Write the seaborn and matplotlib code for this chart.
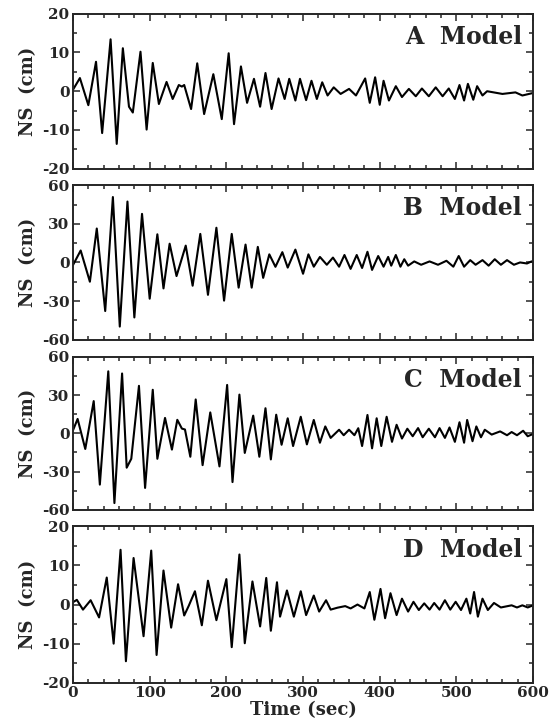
import matplotlib
matplotlib.use('Agg')
import matplotlib.pyplot as plt
import seaborn as sns
from matplotlib.ticker import MultipleLocator

sns.set_style('ticks')
plt.rcParams['font.family'] = ['DejaVu Serif']
plt.rcParams['axes.unicode_minus'] = False

# --- data: (time in sec, NS displacement in cm) at the wave's turning points ---
a_time = [0, 9, 20, 30, 38, 49, 57, 65, 73, 78, 88, 96, 104, 112, 122, 130, 138, 142, 145,
          154, 162, 171, 183, 194, 203, 210, 219, 227, 236, 244, 251, 259,
          268, 276, 282, 290, 296, 304, 311, 318, 325, 332, 340, 349, 360, 369,
          381, 387, 394, 400, 405, 412, 421, 429, 438, 447, 455, 464, 473, 482, 490,
          498, 504, 510, 515, 522, 527, 534, 540, 560, 577, 586, 599]
a_ns = [0.4, 3.4, -3.6, 7.6, -10.8, 13.4, -13.6, 11.1, -4.0, -5.5, 10.2, -9.9, 7.3, -3.3, 2.4, -2.0, 1.6, 1.2, 1.6,
        -4.6, 7.2, -5.9, 4.4, -7.2, 9.8, -8.5, 6.4, -3.0, 3.2, -4.0, 4.7, -4.6,
        3.3, -2.0, 3.2, -2.4, 3.2, -2.3, 2.7, -2.0, 2.3, -1.1, 1.0, -0.7, 0.6, -1.1,
        3.3, -3.0, 3.6, -3.5, 2.7, -2.4, 1.3, -1.5, 0.6, -1.3, 0.7, -1.3, 1.0, -1.3, 0.7,
        -2.0, 1.6, -2.4, 1.9, -2.2, 1.3, -1.1, 0.0, -0.7, -0.3, -1.1, -0.5]

b_time = [0, 10, 22, 31, 42, 52, 61, 71, 80, 90, 100, 110, 118, 126, 135, 147, 156, 166, 176,
          187, 197, 207, 216, 225, 233, 241, 248, 256, 264, 273, 280,
          290, 300, 307, 314, 322, 331, 339, 347, 354, 362, 370, 377, 384, 390, 398, 405,
          411, 415, 421, 427, 432, 437, 445, 454, 465, 476, 487, 496, 503, 510, 518, 525,
          534, 542, 550, 558, 566, 575, 583, 592, 598, 600]
b_ns = [-2, 9.3, -15, 26.4, -37.8, 50.9, -49.9, 47.4, -42.8, 37.8, -28.2, 21.9, -20.2, 14.6, -10.6, 13.1, -18.1, 22.2, -25.2,
        27, -29.7, 22.2, -19.6, 13.9, -19.6, 12.1, -12, 6.3, -3.4, 8, -4,
        10, -8.8, 6.3, -3.3, 4.3, -1.8, 3.8, -3.3, 5.8, -5, 5.8, -4.3, 8.3, -5.8, 5, -3.3,
        4.3, -2.5, 5.8, -3.3, 2.5, -2.5, 0.8, -1.8, 0.8, -1.8, 1.3, -3.3, 5, -3.3, 1.8, -1.8,
        1.8, -2.5, 2.5, -1.8, 1.8, -1.8, 0, -0.8, 0.8, 0]

c_time = [0, 6, 16, 27, 35, 46, 54, 64, 70, 76, 86, 94, 104, 110, 120, 129, 136, 142, 146,
          153, 160, 169, 179, 191, 201, 208, 217, 224, 235, 243, 251, 258, 265, 272,
          280, 287, 297, 305, 314, 322, 329, 336, 347, 353, 360, 367, 372, 377, 384, 390,
          396, 402, 409, 416, 422, 429, 436, 443, 450, 456, 464, 472, 478, 485, 491, 498,
          504, 510, 514, 521, 526, 532, 537, 546, 557, 566, 572, 579, 587, 593, 600]
c_ns = [2.4, 11.3, -12.3, 25.3, -40.3, 48.7, -54.8, 47, -27, -20, 37.3, -42.9, 34.2, -20, 12.1, -12.8, 10.6, 3.7, 3,
        -18.4, 26.6, -25, 16.4, -26, 38, -38.3, 30.4, -15.4, 13.9, -18.4, 19.7, -20.5, 14.6, -9,
        11.8, -10, 13, -8.7, 10.5, -7.4, 5.4, -3.6, 2.8, -1.5, 2.8, -1.5, 4, -10, 14.4, -11.8,
        11.8, -10, 13, -6.7, 6.7, -4.1, 3.6, -2.3, 4.1, -3.1, 3.6, -3.1, 4.1, -3.6, 4.6, -6.7,
        8.7, -7.4, 10.5, -6.2, 5.4, -3.1, 2.8, -1, 1.5, -1.5, 1, -1.5, 2, -2.3, -0.5]

d_time = [0, 5, 13, 23, 34, 44, 53, 62, 69, 79, 92, 102, 109, 118, 128, 137, 145, 151,
          159, 168, 176, 187, 200, 207, 217, 224, 234, 244, 252, 258, 266,
          270, 279, 288, 297, 304, 314, 321, 330, 336, 345, 355, 362, 371, 380, 387, 393,
          401, 407, 414, 422, 429, 437, 444, 451, 458, 465, 471, 478, 485, 492, 499, 506,
          513, 518, 523, 528, 534, 541, 549, 558, 572, 579, 586, 593, 600]
d_ns = [0.6, 1.2, -1.3, 1.1, -3.3, 6.9, -10, 14, -14.5, 11.9, -8.1, 13.8, -12.9, 8.7, -5.9, 5.2, -2.8, -0.3,
        3.4, -5.3, 6.1, -4, 6.5, -10.9, 12.8, -9.9, 5.9, -5.6, 6.8, -6.7, 5.7,
        -3.1, 3.6, -3.1, 3.4, -2.7, 2.3, -1.8, 1.1, -1.3, -0.8, -0.4, -1, 0, -1, 3.2, -3.9,
        4, -3.5, 2.9, -2.7, 1.5, -1.8, 0.7, -1.4, 0.3, -1.3, 0.4, -1.3, 1.1, -1.3, 0.7, -1.4,
        1.5, -2.3, 3.2, -3.1, 1.5, -1.4, 0.4, -0.75, -0.2, -0.75, -0.2, -0.75, -0.2]

panels = [('A', a_time, a_ns, 20), ('B', b_time, b_ns, 60),
          ('C', c_time, c_ns, 60), ('D', d_time, d_ns, 20)]

# panel placement in figure fractions (bottom, height)
boxes = [(0.767, 0.214), (0.531, 0.213), (0.296, 0.211), (0.057, 0.216)]

fig = plt.figure(figsize=(5.51, 7.24), dpi=100)

for (name, t, ns, lim), (bot, h) in zip(panels, boxes):
    ax = fig.add_axes([0.1325, bot, 0.835, h])
    sns.lineplot(x=t, y=ns, ax=ax, color='black', linewidth=1.5, estimator=None, sort=False)
    ax.set_xlim(0, 600)
    ax.set_ylim(-lim, lim)
    ax.xaxis.set_major_locator(MultipleLocator(100))
    ax.xaxis.set_minor_locator(MultipleLocator(20))
    ax.yaxis.set_major_locator(MultipleLocator(lim / 2))
    ax.yaxis.set_minor_locator(MultipleLocator(lim / 4))
    ax.tick_params(which='both', direction='in', top=True, right=True, width=1.1,
                   labelsize=11, pad=2.5)
    ax.tick_params(which='major', length=5)
    ax.tick_params(which='minor', length=3)
    for s in ax.spines.values():
        s.set_linewidth(1.4)
    for lab in ax.get_yticklabels() + ax.get_xticklabels():
        lab.set_fontweight('bold')
    ax.set_ylabel('NS  (cm)', fontsize=13, fontweight='bold')
    ax.yaxis.set_label_coords(-0.078, 0.5)
    ax.text(0.976, 0.85, f'{name}  Model', transform=ax.transAxes, ha='right', va='center',
            fontsize=17, fontweight='bold')
    if name != 'D':
        ax.set_xticklabels([])
        ax.set_xlabel('')
    else:
        ax.set_xlabel('Time (sec)', fontsize=13, fontweight='bold')
        ax.xaxis.set_label_coords(0.5, -0.115)

fig.savefig('out.png', dpi=100)
